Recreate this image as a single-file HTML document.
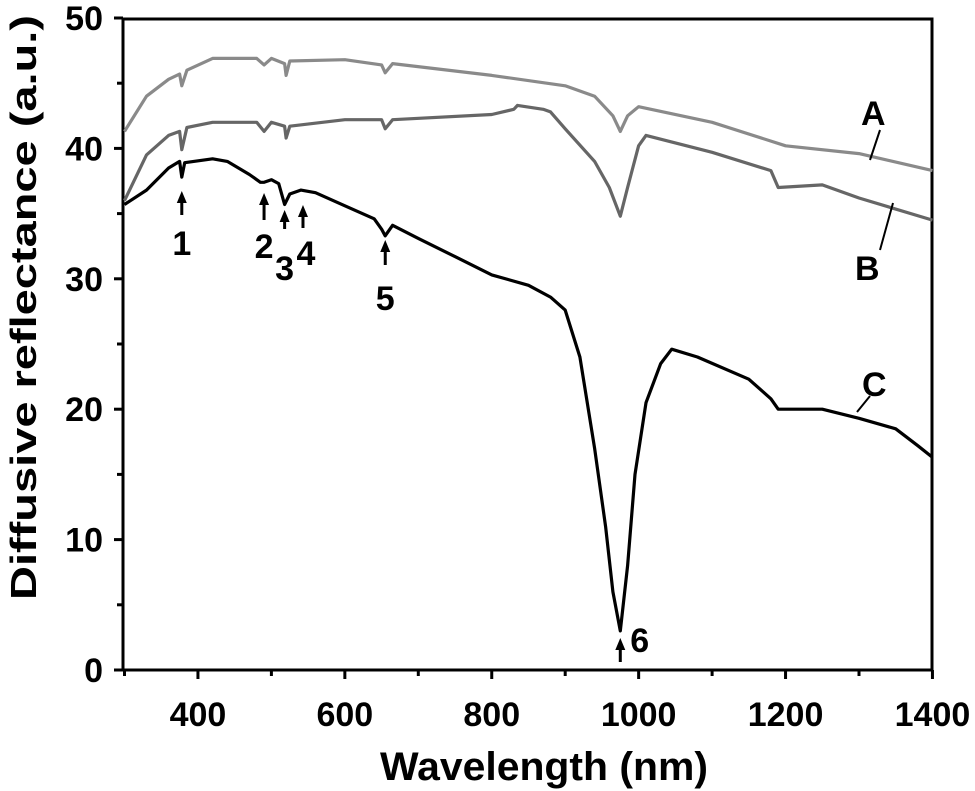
<!DOCTYPE html>
<html><head><meta charset="utf-8"><style>
body{margin:0;background:#fff}
svg{display:block;font-family:"Liberation Sans",Arial,sans-serif;font-weight:bold}
</style></head><body>
<svg id="chart" width="975" height="791" viewBox="0 0 975 791">
<g id="axes"></g><g id="series"></g><g id="annot"></g>
</svg>
<script>
const xTicks=[400,600,800,1000,1200,1400];
const yTicks=[0,10,20,30,40,50];
const seriesA_x=[300,330,360,375,378,385,420,480,490,500,518,520,525,600,650,655,665,800,900,940,965,975,985,1000,1100,1200,1300,1400];
const seriesA_y=[41.3,44,45.3,45.7,44.8,46,46.9,46.9,46.4,46.9,46.5,45.6,46.7,46.8,46.4,45.8,46.5,45.6,44.8,44,42.5,41.3,42.5,43.2,42,40.2,39.6,38.3];
const seriesB_x=[300,330,360,375,378,385,420,480,490,500,518,520,525,600,650,655,665,800,830,835,870,880,900,940,960,975,985,1000,1010,1100,1180,1190,1250,1300,1400];
const seriesB_y=[36,39.5,41,41.3,39.9,41.6,42,42,41.3,42,41.7,40.8,41.7,42.2,42.2,41.5,42.2,42.6,43,43.3,43,42.8,41.5,39,37,34.8,37,40.2,41,39.7,38.3,37,37.2,36.2,34.5];
const seriesC_x=[300,330,360,375,378,382,420,440,470,485,490,500,510,518,525,540,560,600,640,650,655,665,700,750,800,850,880,900,920,940,955,965,975,985,995,1010,1030,1045,1080,1150,1180,1190,1250,1300,1350,1380,1400];
const seriesC_y=[35.7,36.8,38.5,39,37.8,38.9,39.2,39,38,37.4,37.4,37.6,37.3,35.7,36.5,36.8,36.6,35.6,34.6,33.8,33.3,34.1,33.1,31.7,30.3,29.5,28.6,27.6,24,17,11,6,3,8,15,20.5,23.5,24.6,24,22.3,20.8,20,20,19.3,18.5,17.2,16.3];
const peakX=[378,490,518,543,655,975];
const peakLabels=["1","2","3","4","5","6"];

const X=v=>124.5+(v-300)*0.7345;
const Y=v=>670-v*13.04;
const NS="http://www.w3.org/2000/svg";
function mk(t,a,p){const e=document.createElementNS(NS,t);for(const k in a)e.setAttribute(k,a[k]);p.appendChild(e);return e;}
const axes=document.getElementById('axes'),ser=document.getElementById('series'),an=document.getElementById('annot');

const frame=mk('rect',{x:123,y:19,width:809,height:651,fill:'none',stroke:'#000','stroke-width':3},axes);


xTicks.forEach(v=>{
 const l=mk('line',{x1:X(v),x2:X(v),y1:670,y2:679,stroke:'#000','stroke-width':3},axes);
 
 
 const m=mk('line',{x1:X(v-100),x2:X(v-100),y1:670,y2:676,stroke:'#000','stroke-width':3},axes);
 
 
 const t=mk('text',{x:X(v),y:726,'text-anchor':'middle','font-size':34},axes);t.textContent=v;
 
 
});
yTicks.forEach(v=>{
 const l=mk('line',{x1:114,x2:123,y1:Y(v),y2:Y(v),stroke:'#000','stroke-width':3},axes);
 
 
 if(v<50){const m=mk('line',{x1:117,x2:123,y1:Y(v+5),y2:Y(v+5),stroke:'#000','stroke-width':3},axes);
 
 }
 const t=mk('text',{x:103,y:Y(v)+12,'text-anchor':'end','font-size':34},axes);t.textContent=v;
 
 
});
const xt=mk('text',{x:380,y:780,'font-size':40,textLength:328,lengthAdjust:'spacingAndGlyphs'},axes);xt.textContent='Wavelength (nm)';


const yt=mk('text',{x:0,y:0,'font-size':36,textLength:585,lengthAdjust:'spacingAndGlyphs',transform:'translate(36,600) rotate(-90)'},axes);yt.textContent='Diffusive reflectance (a.u.)';



function line(xs,ys,col,name){
 const d=xs.map((x,i)=>(i?'L':'M')+X(x).toFixed(1)+','+Y(ys[i]).toFixed(1)).join('');
 const p=mk('path',{d:d,fill:'none',stroke:col,'stroke-width':3.2,'stroke-linejoin':'round'},ser);
 
 
}
line(seriesA_x,seriesA_y,'#8a8a8a','series-a-line');
line(seriesB_x,seriesB_y,'#666','series-b-line');
line(seriesC_x,seriesC_y,'#000','series-c-line');

// peak arrows: tip offset, length, label dx, label baseline
const arrowCfg=[[191,24,0,255],[193,27,0,258],[210,19,0,280],[205,23,3,265],[240,25,0,310],[638,24,22,652]];
peakX.forEach((px,i)=>{
 const [top,len,dx,ly]=arrowCfg[i];
 const g=mk('g',{},an);
 
 
 mk('line',{x1:X(px),x2:X(px),y1:top+6,y2:top+len,stroke:'#000','stroke-width':3},g);
 mk('path',{d:`M${X(px)-5},${top+12}L${X(px)},${top}L${X(px)+5},${top+12}Z`,fill:'#000'},g);
 const t=mk('text',{x:X(px)+dx,y:ly,'text-anchor':i===5?'start':'middle','font-size':34},g);t.textContent=peakLabels[i];
 if(i===5)t.setAttribute('x',X(px)+10);
});
function lab(txt,x,y,x1,y1,x2,y2,name){
 const g=mk('g',{},an);
 
 
 mk('line',{x1:x1,y1:y1,x2:x2,y2:y2,stroke:'#000','stroke-width':2},g);
 const t=mk('text',{x:x,y:y,'font-size':34},g);t.textContent=txt;
}
lab('A',861,125,880,130,870,160,'label-a');
lab('B',855,280,880,250,893,203,'label-b');
lab('C',862,396,870,396,857,412,'label-c');
</script>
</body></html>
